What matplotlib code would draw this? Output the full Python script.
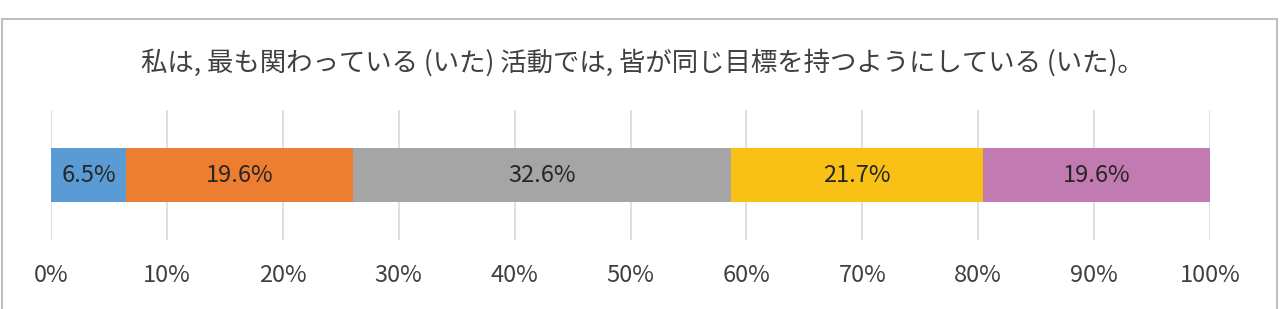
import matplotlib.pyplot as plt
from matplotlib.patches import Rectangle

plt.rcParams['font.family'] = ['Noto Sans CJK JP', 'DejaVu Sans']

# データ
title = '私は, 最も関わっている (いた) 活動では, 皆が同じ目標を持つようにしている (いた)。'
values = [6.5, 19.6, 32.6, 21.7, 19.6]
colors = ['#5B9BD5', '#ED7D31', '#A5A5A5', '#F9C015', '#C27BB0']
ticks = [0, 10, 20, 30, 40, 50, 60, 70, 80, 90, 100]

fig = plt.figure(figsize=(12.81, 3.09), dpi=100)

# 外枠
fig.patches.append(Rectangle((2 / 1281, -0.05), 1275 / 1281, 1.05 - 19 / 309,
                             transform=fig.transFigure, fill=False,
                             edgecolor='#BFBFBF', linewidth=1.5))

ax = fig.add_axes([51 / 1281, 69 / 309, 1159 / 1281, 130 / 309])

left = 0
for v, c in zip(values, colors):
    ax.barh(0, v, left=left, height=0.41, color=c, zorder=3)
    ax.text(left + v / 2, 0, f'{v}%', ha='center', va='center',
            fontsize=17, color='#262626', zorder=4)
    left += v

ax.set_xlim(0, 100)
ax.set_ylim(-0.5, 0.5)
ax.set_xticks(ticks)
ax.set_xticklabels([f'{t}%' for t in ticks], fontsize=17, color='#404040')
ax.tick_params(axis='x', length=0, pad=17)
ax.set_yticks([])
ax.grid(axis='x', color='#D9D9D9', linewidth=1.2, zorder=0)
for s in ax.spines.values():
    s.set_visible(False)

fig.text(642 / 1281, 1 - 63 / 309, title, ha='center', va='center',
         fontsize=19, color='#404040')

fig.savefig('out.png', dpi=100, facecolor='white')
